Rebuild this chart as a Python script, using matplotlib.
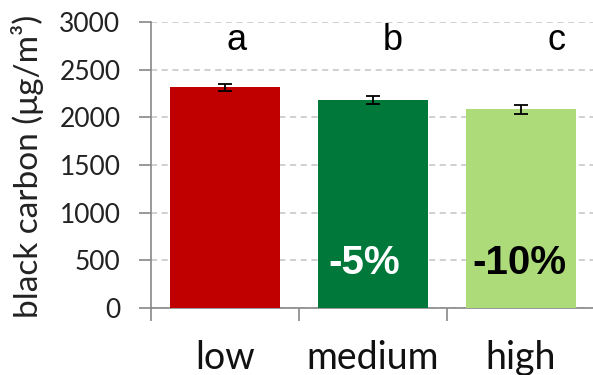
import matplotlib
matplotlib.use("Agg")
import matplotlib.pyplot as plt

categories = ["low", "medium", "high"]
values = [2316, 2182, 2085]
errors = [35, 40, 45]
colors = ["#C00000", "#00783A", "#AEDB7A"]
letters = ["a", "b", "c"]
pct_labels = ["", "-5%", "-10%"]
pct_colors = ["white", "white", "black"]
yticks = [0, 500, 1000, 1500, 2000, 2500, 3000]

W, H = 593, 375
fig = plt.figure(figsize=(W / 100, H / 100), dpi=100)
ax = fig.add_axes([151 / W, 67 / H, 444 / W, 286 / H])

x = list(range(len(categories)))
ax.bar(x, values, width=0.74, color=colors, zorder=3)
ax.errorbar(x, values, yerr=errors, fmt="none", ecolor="black",
            elinewidth=1.3, capsize=5, capthick=1.3, zorder=4)

ax.set_xlim(-0.5, 2.5)
ax.set_ylim(0, 3000)
ax.set_yticks(yticks)
ax.set_yticklabels([str(t) for t in yticks], fontsize=19, family="Lato", color="#222222")
ax.yaxis.grid(True, linestyle=(0, (4, 3)), color="#C4C4C4", linewidth=1.1, zorder=0)
ax.set_axisbelow(True)

ax.set_xticks([-0.5, 0.5, 1.5, 2.5])
ax.set_xticklabels([])
ax.tick_params(axis="x", length=9, color="#888888", width=1.2, direction="out")
ax.tick_params(axis="y", length=9, color="#888888", width=1.2, direction="out", pad=13)
for i, c in enumerate(categories):
    ax.text(i, -0.175, c, transform=ax.get_xaxis_transform(), ha="center", va="center",
            fontsize=27, family="Lato", color="#111111")

for s in ["top", "right"]:
    ax.spines[s].set_visible(False)
for s in ["left", "bottom"]:
    ax.spines[s].set_color("#888888")
    ax.spines[s].set_linewidth(1.2)

letter_dx = [0.08, 0.13, 0.24]
for i, l in enumerate(letters):
    ax.text(i + letter_dx[i], 2810, l, ha="center", va="center", fontsize=26,
            family="Liberation Sans", color="black")

for i, p in enumerate(pct_labels):
    if p:
        ax.text(i - 0.06 if i == 1 else i - 0.01, 470, p, ha="center", va="center",
                fontsize=29, fontweight="bold", family="Liberation Sans",
                color=pct_colors[i], zorder=5)

fig.text(28 / W, 1 - 166 / H, "black carbon (μg/m³)", rotation=90,
         ha="center", va="center", fontsize=24, family="Lato", color="#222222")

fig.savefig("out.png", dpi=100)
